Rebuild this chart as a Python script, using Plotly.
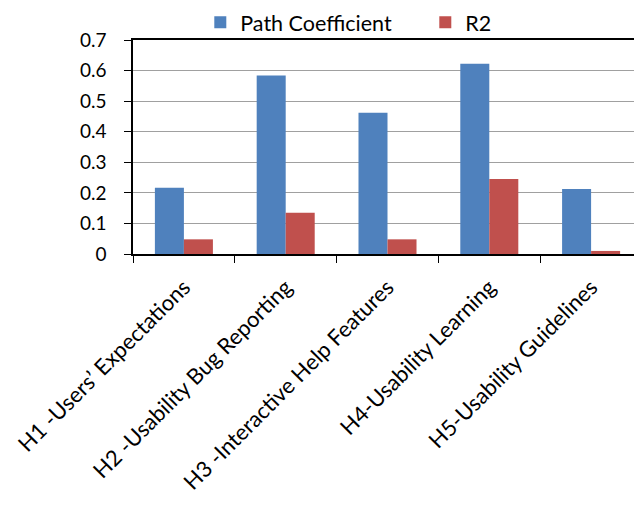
import plotly.graph_objects as go

categories = [
    "H1 -Users’ Expectations",
    "H2 -Usability Bug Reporting",
    "H3 -Interactive Help Features",
    "H4-Usability Learning",
    "H5-Usability Guidelines",
]
path_coefficient = [0.217, 0.584, 0.462, 0.622, 0.213]
r2 = [0.048, 0.135, 0.048, 0.245, 0.010]
y_ticks = [0, 0.1, 0.2, 0.3, 0.4, 0.5, 0.6, 0.7]
y_tick_labels = ["0", "0.1", "0.2", "0.3", "0.4", "0.5", "0.6", "0.7"]

FONT = "Lato, Carlito, Calibri, sans-serif"

fig = go.Figure()
fig.add_trace(go.Bar(name="Path Coefficient", x=categories, y=path_coefficient,
                     marker=dict(color="#4F81BD", line=dict(width=0))))
fig.add_trace(go.Bar(name="R2", x=categories, y=r2,
                     marker=dict(color="#C0504D", line=dict(width=0))))

fig.update_layout(
    width=642, height=507,
    margin=dict(l=125, r=8, t=32, b=261, autoexpand=False),
    paper_bgcolor="white", plot_bgcolor="white",
    barmode="group", bargap=0.43, bargroupgap=0,
    font=dict(family=FONT, color="black"),
    legend=dict(orientation="h", xref="container", yref="container",
                x=0.65, xanchor="center", y=0.972, yanchor="middle",
                font=dict(size=21.5, family=FONT), itemwidth=30,
                entrywidth=180,
                bgcolor="rgba(0,0,0,0)", tracegroupgap=0),
    showlegend=True,
)
fig.update_xaxes(
    type="category", tickangle=-45, tickfont=dict(size=22, family=FONT),
    showline=True, linecolor="black", linewidth=1.5, mirror=True,
    ticks="outside", tickson="boundaries", ticklen=7, tickcolor="black",
    ticklabelstandoff=10,
    showgrid=False, automargin=False,
)
fig.update_yaxes(
    range=[0, 0.7], tickvals=y_ticks, ticktext=y_tick_labels,
    tickfont=dict(size=19, family=FONT),
    showline=True, linecolor="black", linewidth=1.5,
    ticks="outside", ticklen=7, tickcolor="black",
    ticklabelstandoff=14,
    showgrid=True, gridcolor="#A0A0A0", gridwidth=1, zeroline=False,
    automargin=False,
)
fig.write_html("out.html")
